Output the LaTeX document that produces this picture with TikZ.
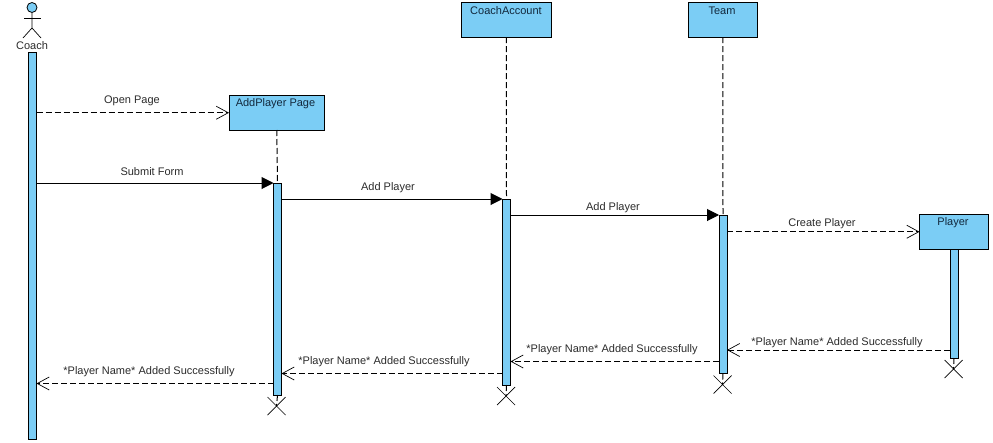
\documentclass[tikz,border=0pt]{standalone}
\usepackage{fontspec}
\setmainfont{Liberation Sans}
\usetikzlibrary{arrows.meta,shapes.misc}
\definecolor{lifeblue}{HTML}{7BCDF5}
\definecolor{msgtext}{HTML}{2B2B2B}
\definecolor{objtext}{HTML}{12283C}
\tikzset{
  objbox/.style={draw=black, fill=lifeblue, line width=1pt, inner sep=0pt, outer sep=0pt},
  bar/.style={draw=black, fill=lifeblue, line width=1pt, inner sep=0pt, outer sep=0pt, minimum width=8pt},
  endmark/.style={cross out, draw=black, line width=0.7pt, inner sep=0pt, outer sep=0pt, minimum size=18pt},
  objname/.style={font=\fontsize{11}{13}\selectfont, text=objtext, inner sep=0pt},
  msglabel/.style={font=\fontsize{11}{13}\selectfont, text=msgtext, inner sep=0pt},
  lifeline/.style={line width=1pt, dash pattern=on 6pt off 3pt},
  syncmsg/.style={line width=1pt, -{Triangle[length=12pt, width=12pt]}},
  replymsg/.style={line width=1pt, dash pattern=on 6pt off 3pt, -{Straight Barb[length=12pt, width=13pt, line width=0.7pt]}}
}

\begin{document}
\begin{tikzpicture}[x=1pt, y=-1pt]
  \useasboundingbox (0,0) rectangle (993,442);

  % actor
  \node[draw=black, fill=lifeblue, circle, line width=0.8pt, inner sep=0pt, minimum size=10pt] (coachHead) at (32,7.5) {};
  \draw[line width=0.7pt] (coachHead.south) -- (32,28) -- (23,38);
  \draw[line width=0.7pt] (32,28) -- (41,38);
  \draw[line width=0.7pt] (24,18) -- (41,18);
  \node[msglabel] (coachName) at (32,45.5) {Coach};

  % objects
  \foreach \name/\xa/\xb/\ya/\txt/\xt in {
      page/229/324.5/95.5/AddPlayer Page/275.5,
      account/461/551.5/2.5/CoachAccount/506,
      team/688/757.5/2.5/Team/722,
      player/919.5/988.5/214.5/Player/953} {
    \node[objbox, minimum width={(\xb-\xa)*1pt}, minimum height=34.5pt] (\name Box) at ({(\xa+\xb)/2},{\ya+17.25}) {};
    \node[objname] (\name Name) at (\xt,{\ya+8}) {\txt};
  }

  % activation bars
  \foreach \name/\x/\ya/\yb in {
      coach/32.5/52/439,
      page/277.5/183/395,
      account/506.5/199/385,
      team/723/215/373.5,
      player/954/249/358} {
    \node[bar, minimum height={(\yb-\ya)*1pt}] (\name Bar) at (\x,{(\ya+\yb)/2}) {};
  }

  % destruction marks
  \foreach \name/\x/\y in {page/276.5/406, account/506/396, team/722.5/384.5, player/953.5/369} {
    \node[endmark] (\name End) at (\x,\y) {};
  }

  % lifelines
  \foreach \name in {page, account, team} {
    \draw[lifeline] (\name Box.south) -- (\name Bar.north);
  }
  \foreach \name in {page, account, team, player} {
    \draw[lifeline] (\name Bar.south) -- (\name End.center);
  }

  % messages
  \draw[replymsg] (coachBar.east |- pageBox.west) -- (pageBox.west);
  \draw[syncmsg] (coachBar.east |- pageBar.north) -- (pageBar.north west);
  \draw[syncmsg] (pageBar.east |- accountBar.north) -- (accountBar.north west);
  \draw[syncmsg] (accountBar.east |- teamBar.north) -- (teamBar.north west);
  \draw[replymsg] (teamBar.east |- playerBox.west) -- (playerBox.west);

  \coordinate (replyA) at (0,350);
  \coordinate (replyB) at (0,361.5);
  \coordinate (replyC) at (0,373.5);
  \coordinate (replyD) at (0,383.5);
  \draw[replymsg] (playerBar.west |- replyA) -- (teamBar.east |- replyA);
  \draw[replymsg] (teamBar.west |- replyB) -- (accountBar.east |- replyB);
  \draw[replymsg] (accountBar.west |- replyC) -- (pageBar.east |- replyC);
  \draw[replymsg] (pageBar.west |- replyD) -- (coachBar.east |- replyD);

  % message labels
  \node[msglabel] (openLabel) at (132,100.5) {Open Page};
  \node[msglabel] (submitLabel) at (152,171.5) {Submit Form};
  \node[msglabel] (addLabelA) at (388,187.5) {Add Player};
  \node[msglabel] (addLabelB) at (613,207.5) {Add Player};
  \node[msglabel] (createLabel) at (822,223.5) {Create Player};
  \node[msglabel] (replyLabelA) at (837,342.5) {*Player Name* Added Successfully};
  \node[msglabel] (replyLabelB) at (612,349.5) {*Player Name* Added Successfully};
  \node[msglabel] (replyLabelC) at (384,361.5) {*Player Name* Added Successfully};
  \node[msglabel] (replyLabelD) at (149,371.5) {*Player Name* Added Successfully};
\end{tikzpicture}
\end{document}
